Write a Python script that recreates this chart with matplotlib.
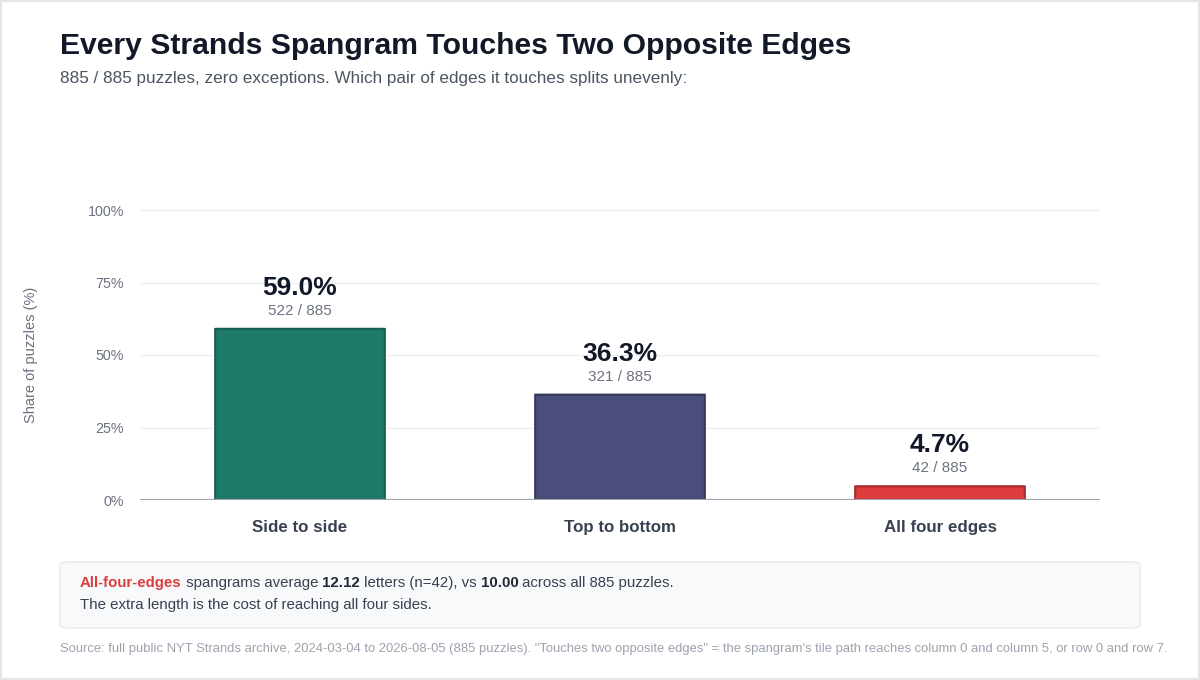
import matplotlib.pyplot as plt
from matplotlib.patches import FancyBboxPatch, Rectangle

plt.rcParams['font.family'] = ['Liberation Sans', 'DejaVu Sans']

# data
categories = ["Side to side", "Top to bottom", "All four edges"]
shares = [59.0, 36.3, 4.7]
counts = [522, 321, 42]
total = 885
yticks = [0, 25, 50, 75, 100]

colors = ["#1f7a6a", "#4b4d7b", "#dc3c3c"]
edges = ["#145e50", "#33365a", "#a8282a"]

W, H = 1200, 680
fig = plt.figure(figsize=(W / 100, H / 100), dpi=100)
fig.patch.set_facecolor("white")
fig.add_artist(Rectangle((0.001, 0.001), 0.998, 0.997, transform=fig.transFigure,
                         fill=False, edgecolor="#e3e5e8", linewidth=1.5))

ax = fig.add_axes([140 / W, 1 - 500 / H, 960 / W, 290 / H])
ax.set_xlim(-0.5, 2.5)
ax.set_ylim(0, 100)
for s in ax.spines.values():
    s.set_visible(False)
ax.set_yticks(yticks)
ax.set_yticklabels([f"{t}%" for t in yticks], color="#6b7280", fontsize=10.3)
ax.tick_params(axis="y", length=0, pad=11.5)
ax.tick_params(axis="x", length=0, pad=14.5)
ax.set_xticks(range(len(categories)))
ax.set_xticklabels(categories, fontsize=12.2, fontweight="bold", color="#374151")
for t in yticks[1:]:
    ax.axhline(t, color="#eceef1", linewidth=1, zorder=0)
ax.axhline(0, color="#9ca3af", linewidth=1.5, zorder=3)

# bars, redrawn with slightly rounded corners
bars = ax.bar(range(len(categories)), shares, width=0.53, color="none")
for b, c, e in zip(bars, colors, edges):
    x, y = b.get_x(), b.get_y()
    w, h = b.get_width(), b.get_height()
    pad = 0.01
    p = FancyBboxPatch((x + pad, y + pad * 4), w - 2 * pad, h - pad * 4,
                       boxstyle="round,pad=0.01,rounding_size=0.012",
                       mutation_aspect=3.3,
                       facecolor=c, edgecolor=e, linewidth=1.5, zorder=2)
    ax.add_patch(p)
    b.remove()

for i, (s, n) in enumerate(zip(shares, counts)):
    ax.annotate(f"{n} / {total}", (i, s), xytext=(0, 13), textcoords="offset points",
                ha="center", va="center", fontsize=11, color="#6b7280")
    ax.annotate(f"{s:.1f}%", (i, s), xytext=(0, 29.5), textcoords="offset points",
                ha="center", va="center", fontsize=19, fontweight="bold", color="#111827")

ax.set_ylabel("Share of puzzles (%)", color="#6b7280", fontsize=10.5)
ax.yaxis.set_label_coords(-(140 - 38) / 960, 0.5)

fig.text(60 / W, 1 - 46 / H, "Every Strands Spangram Touches Two Opposite Edges",
         fontsize=21.7, fontweight="bold", color="#111827", va="center")
fig.text(60 / W, 1 - 79 / H,
         "885 / 885 puzzles, zero exceptions. Which pair of edges it touches splits unevenly:",
         fontsize=12.3, color="#4b5563", va="center")

# note box
fig.add_artist(FancyBboxPatch((60 / W, 1 - 628 / H), 1080 / W, 66 / H,
                              boxstyle="round,pad=0,rounding_size=0.006",
                              transform=fig.transFigure, facecolor="#f8f9fb",
                              edgecolor="#e5e7eb", linewidth=1))

parts = [("All-four-edges", "#dc3c3c", "bold"),
         (" spangrams average ", "#374151", "normal"),
         ("12.12", "#1f2937", "bold"),
         (" letters (n=42), vs ", "#374151", "normal"),
         ("10.00", "#1f2937", "bold"),
         (" across all 885 puzzles.", "#374151", "normal")]
fs_note = 10.8
fig.canvas.draw()
r = fig.canvas.get_renderer()
x = 80 / W
for txt, col, wt in parts:
    t = fig.text(x, 1 - 583 / H, txt, color=col, fontweight=wt, fontsize=fs_note, va="center")
    x += t.get_window_extent(renderer=r).width / W

fig.text(80 / W, 1 - 605 / H, "The extra length is the cost of reaching all four sides.",
         fontsize=fs_note, color="#374151", va="center")

fig.text(60 / W, 1 - 649 / H,
         'Source: full public NYT Strands archive, 2024-03-04 to 2026-08-05 (885 puzzles). '
         '"Touches two opposite edges" = the spangram\'s tile path reaches column 0 and column 5, or row 0 and row 7.',
         fontsize=9.35, color="#9ca3af", va="center")

fig.savefig("out.png", dpi=100)
